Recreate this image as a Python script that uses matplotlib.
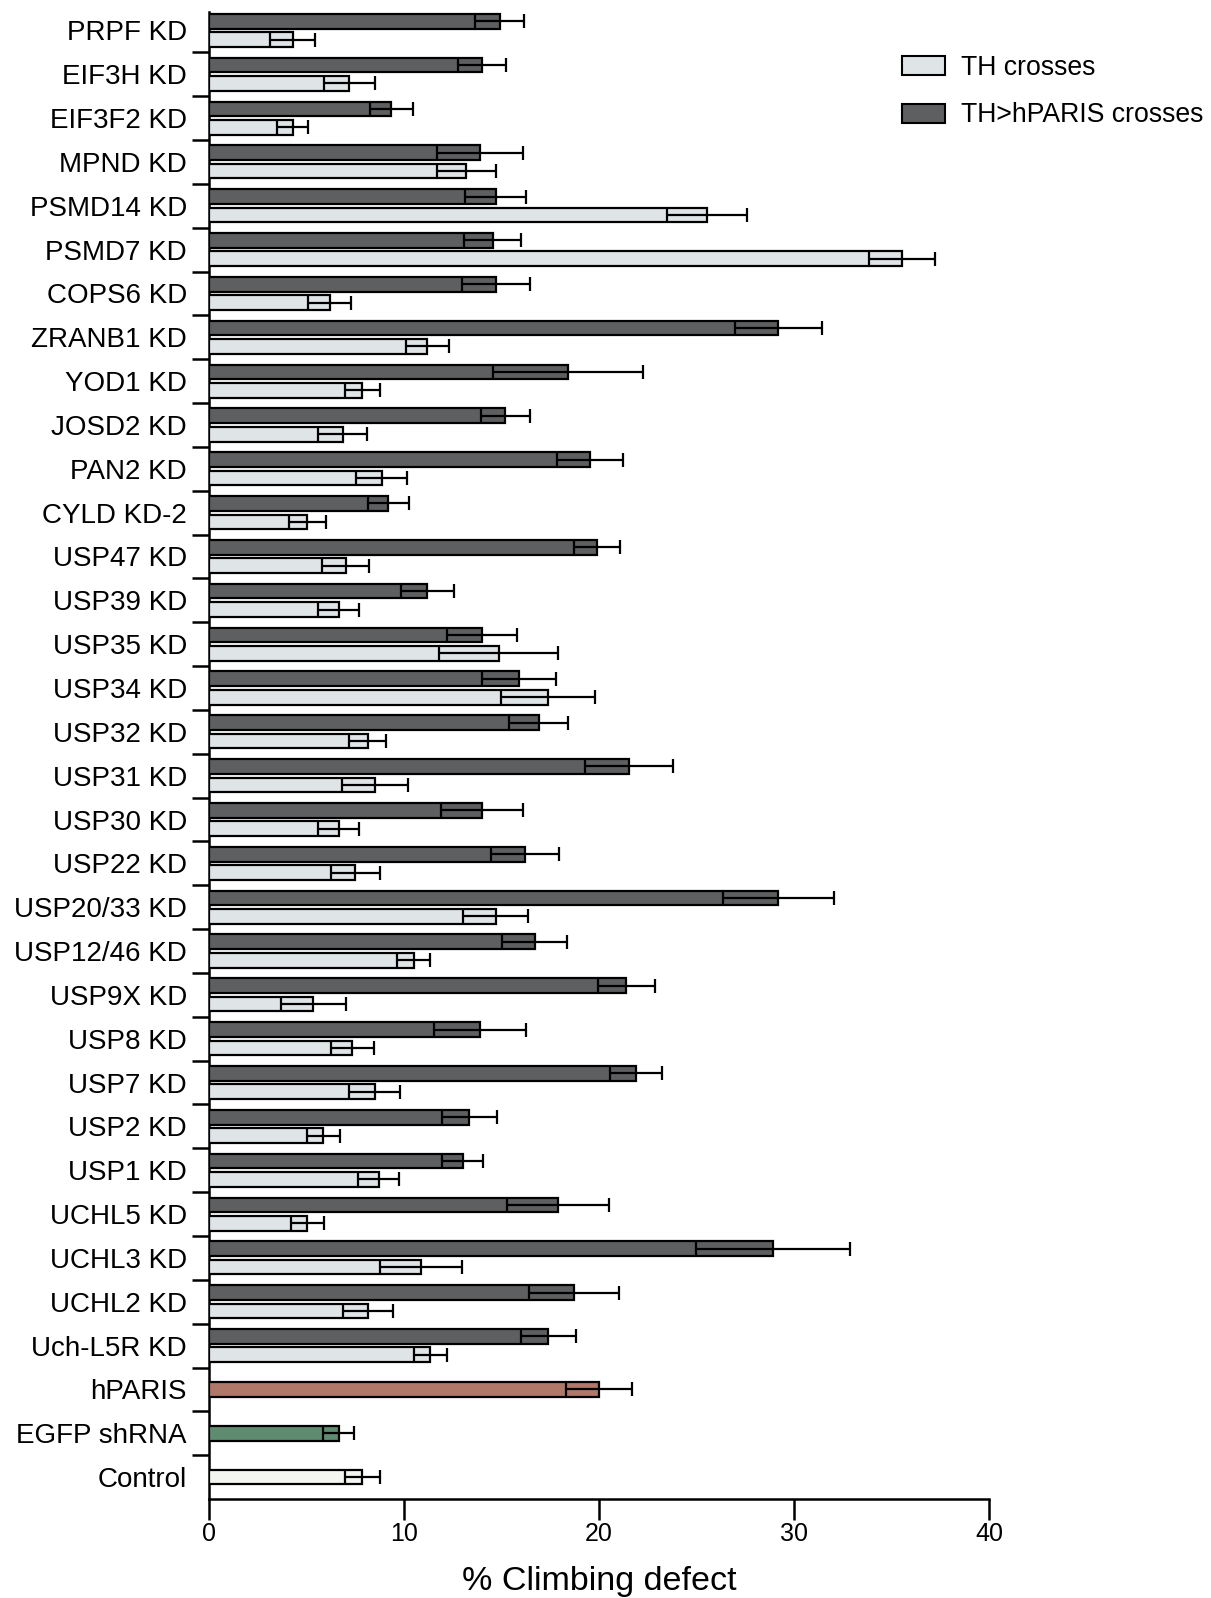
import numpy as np
import matplotlib
matplotlib.use("Agg")
import matplotlib.pyplot as plt
from matplotlib.patches import Patch

plt.rcParams['font.family'] = ['Liberation Sans', 'DejaVu Sans']

# paired knock-down groups (top to bottom)
kd_labels = [
    "PRPF KD", "EIF3H KD", "EIF3F2 KD", "MPND KD", "PSMD14 KD", "PSMD7 KD",
    "COPS6 KD", "ZRANB1 KD", "YOD1 KD", "JOSD2 KD", "PAN2 KD", "CYLD KD-2",
    "USP47 KD", "USP39 KD", "USP35 KD", "USP34 KD", "USP32 KD", "USP31 KD",
    "USP30 KD", "USP22 KD", "USP20/33 KD", "USP12/46 KD", "USP9X KD",
    "USP8 KD", "USP7 KD", "USP2 KD", "USP1 KD", "UCHL5 KD", "UCHL3 KD",
    "UCHL2 KD", "Uch-L5R KD",
]
paris_vals = [14.9, 14.0, 9.35, 13.9, 14.7, 14.55, 14.7, 29.2, 18.4, 15.2,
              19.55, 9.2, 19.9, 11.2, 14.0, 15.9, 16.9, 21.55, 14.0, 16.2,
              29.2, 16.7, 21.4, 13.9, 21.9, 13.35, 13.0, 17.9, 28.9, 18.7, 17.4]
paris_err = [1.25, 1.25, 1.1, 2.2, 1.55, 1.45, 1.75, 2.25, 3.85, 1.25,
             1.7, 1.05, 1.2, 1.35, 1.8, 1.9, 1.5, 2.25, 2.1, 1.75,
             2.85, 1.65, 1.45, 2.35, 1.35, 1.4, 1.05, 2.6, 3.95, 2.3, 1.4]
th_vals = [4.3, 7.2, 4.3, 13.2, 25.55, 35.55, 6.2, 11.2, 7.85, 6.85,
           8.85, 5.05, 7.0, 6.65, 14.85, 17.4, 8.15, 8.5, 6.65, 7.5,
           14.7, 10.5, 5.35, 7.35, 8.5, 5.85, 8.7, 5.05, 10.85, 8.15, 11.35]
th_err = [1.15, 1.3, 0.8, 1.5, 2.05, 1.7, 1.1, 1.1, 0.9, 1.25,
          1.3, 0.95, 1.2, 1.05, 3.05, 2.4, 0.95, 1.7, 1.05, 1.25,
          1.65, 0.85, 1.65, 1.1, 1.3, 0.85, 1.05, 0.85, 2.1, 1.3, 0.85]

# single reference bars
ref_labels = ["hPARIS", "EGFP shRNA", "Control"]
ref_vals = [20.0, 6.65, 7.85]
ref_err = [1.7, 0.8, 0.9]
ref_colors = ["#b07868", "#5f8b70", "#f3f6f0"]

dark = "#5e5f61"
light = "#dfe5e7"

fig = plt.figure(figsize=(12.11, 15.98), dpi=100)
ax = fig.add_axes([209 / 1211, 1 - 1498.6 / 1598, 780 / 1211, (1498.6 - 12) / 1598])

n_kd = len(kd_labels)
y_kd = np.arange(n_kd)
y_ref = np.arange(n_kd, n_kd + len(ref_labels))
h = 0.335
off = 0.21
ekw = dict(fmt='none', ecolor='black', elinewidth=1.6, capsize=5, capthick=1.6, zorder=4)

ax.barh(y_kd - off, paris_vals, height=h, color=dark, edgecolor='black', linewidth=1.6, zorder=3)
ax.barh(y_kd + off, th_vals, height=h, color=light, edgecolor='black', linewidth=1.6, zorder=3)
ax.errorbar(paris_vals, y_kd - off, xerr=paris_err, **ekw)
ax.errorbar(th_vals, y_kd + off, xerr=th_err, **ekw)

ax.barh(y_ref, ref_vals, height=h, color=ref_colors, edgecolor='black', linewidth=1.6, zorder=3)
ax.errorbar(ref_vals, y_ref, xerr=ref_err, **ekw)

all_labels = kd_labels + ref_labels
ax.set_yticks(np.arange(len(all_labels)))
ax.set_yticklabels(all_labels, fontsize=20)
ax.set_yticks(np.arange(len(all_labels) - 1) + 0.5, minor=True)
ax.tick_params(axis='y', which='major', length=0, pad=16)
ax.tick_params(axis='y', which='minor', length=12, width=1.8)
ax.set_ylim(len(all_labels) - 1 + 0.49, -0.42)

ax.set_xlim(0, 40)
ax.set_xticks([0, 10, 20, 30, 40])
ax.tick_params(axis='x', length=15, width=1.8, labelsize=18, pad=2)
ax.set_xlabel("% Climbing defect", fontsize=24.5, labelpad=14)

for s in ['top', 'right']:
    ax.spines[s].set_visible(False)
for s in ['left', 'bottom']:
    ax.spines[s].set_linewidth(1.8)

handles = [Patch(facecolor=light, edgecolor='black', linewidth=1.5, label="TH crosses"),
           Patch(facecolor=dark, edgecolor='black', linewidth=1.5, label="TH>hPARIS crosses")]
fig.legend(handles=handles, loc='upper left', bbox_to_anchor=(902 / 1211, 1 - 55 / 1598),
           bbox_transform=fig.transFigure, frameon=False, fontsize=19.2, borderpad=0,
           borderaxespad=0, handlelength=1.6, handleheight=0.72, handletextpad=0.6,
           labelspacing=0.8)

fig.savefig("out.png", dpi=100)
